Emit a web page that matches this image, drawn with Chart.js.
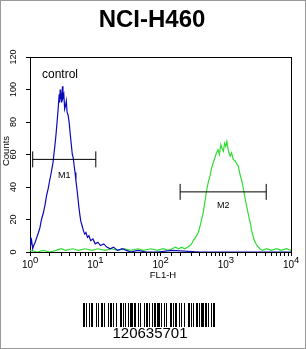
<!DOCTYPE html>
<html>
<head>
<meta charset="utf-8">
<script src="https://cdn.jsdelivr.net/npm/chart.js@4/dist/chart.umd.min.js"></script>
<style>
  html, body { margin: 0; padding: 0; background: #fff; }
  #wrap { width: 306px; height: 349px; position: relative; }
</style>
</head>
<body>
<div id="wrap"><canvas id="myChart" width="306" height="349"></canvas></div>
<script>
// control histogram (blue)
const ctrlFL1 = [1, 1.03, 1.06, 1.1, 1.14, 1.2, 1.27, 1.35, 1.42, 1.5, 1.6, 1.7, 1.8, 1.9, 2.0, 2.1, 2.25, 2.4, 2.5, 2.6, 2.7, 2.8, 2.85, 2.9, 2.95, 3.0, 3.05, 3.15, 3.2, 3.3, 3.4, 3.5, 3.6, 3.7, 3.85, 4.0, 4.15, 4.3, 4.45, 4.6, 4.75, 4.9, 5.05, 5.2, 5.4, 5.6, 5.8, 6.0, 6.3, 6.6, 6.9, 7.2, 7.6, 8.0, 8.5, 9.2, 10, 11, 12, 13.5, 15, 17, 19, 22, 26, 30, 35, 45, 60, 90, 150, 400, 1000, 3000, 10000];
const ctrlCounts = [9, 5, 7, 2, 4, 6, 9, 12, 15, 20, 24, 29, 35, 39, 44, 48, 55, 65, 72, 80, 88, 97, 92, 100, 94, 98, 92, 102, 95, 97, 88, 90, 93, 86, 84, 79, 72, 66, 60, 58, 53, 49, 44, 40, 34, 28, 23, 19, 16, 13, 11, 12, 9, 10, 7, 8, 5, 6, 4, 5, 3, 2, 3, 1, 2, 1, 0, 1, 0, 0, 1, 0, 0, 0, 0];

// sample histogram (green)
const sampleFL1 = [1, 1.3, 1.6, 2, 2.5, 3, 3.5, 4.5, 5.5, 7, 9, 11, 14, 18, 22, 28, 35, 45, 55, 70, 90, 110, 130, 150, 170, 190, 210, 235, 260, 283, 300, 316, 345, 380, 410, 450, 480, 510, 540, 575, 610, 645, 680, 720, 760, 800, 840, 870, 920, 960, 1000, 1040, 1100, 1170, 1230, 1300, 1400, 1480, 1550, 1650, 1780, 1880, 2000, 2120, 2250, 2400, 2530, 2750, 3000, 3330, 3700, 4200, 5000, 6000, 7000, 8500, 10000];
const sampleCounts = [1, 0, 1, 0, 1, 2, 1, 2, 1, 2, 1, 2, 1, 2, 1, 2, 1, 2, 1, 2, 1, 2, 1, 2, 3, 2, 3, 2, 3, 4, 5, 7, 9, 12, 17, 24, 31, 38, 43, 47, 52, 55, 58, 61, 63, 60, 66, 64, 62, 67, 65, 68, 62, 59, 61, 57, 56, 54, 53, 48, 43, 38, 32, 27, 22, 17, 12, 7, 4, 2, 1, 2, 1, 2, 1, 2, 1];

// markers
const m1Range = [1.1, 10.2];
const m1Level = 57;
const m2Range = [200, 4170];
const m2Level = 37;

const yTicks = [0, 20, 40, 60, 80, 100, 120];
const xDecades = [1, 10, 100, 1000, 10000];

const toPts = (xs, ys) => xs.map((v, i) => ({ x: v, y: ys[i] }));

const deco = {
  id: 'deco',
  beforeDatasetsDraw(chart) {
    const ctx = chart.ctx;
    const a = chart.chartArea;
    ctx.save();
    ctx.strokeStyle = '#000';
    ctx.lineWidth = 1;
    ctx.strokeRect(Math.round(a.left) + 0.5, Math.round(a.top) + 0.5, Math.round(a.right - a.left), Math.round(a.bottom - a.top));
    ctx.restore();
  },
  afterDraw(chart) {
    const ctx = chart.ctx;
    const sx = chart.scales.x, sy = chart.scales.y;
    ctx.save();
    ctx.fillStyle = '#000';

    // title
    ctx.font = 'bold 24px "Liberation Sans", Arial, sans-serif';
    ctx.textAlign = 'center';
    ctx.textBaseline = 'alphabetic';
    ctx.fillText('NCI-H460', 152, 27);

    // y tick labels, rotated
    ctx.font = '9px "Liberation Sans", Arial, sans-serif';
    yTicks.forEach(v => {
      ctx.save();
      ctx.translate(14, sy.getPixelForValue(v));
      ctx.rotate(-Math.PI / 2);
      ctx.textAlign = 'center';
      ctx.textBaseline = 'middle';
      ctx.fillText(String(v), 0, 0);
      ctx.restore();
    });
    ctx.save();
    ctx.translate(6, 151);
    ctx.rotate(-Math.PI / 2);
    ctx.textAlign = 'center';
    ctx.textBaseline = 'middle';
    ctx.font = '9.5px "Liberation Sans", Arial, sans-serif';
    ctx.fillText('Counts', 0, 0);
    ctx.restore();

    // x tick labels 10^n
    xDecades.forEach((v, i) => {
      const px = sx.getPixelForValue(v);
      ctx.textAlign = 'right';
      ctx.font = '10px "Liberation Sans", Arial, sans-serif';
      ctx.fillText('10', px + 3, 268);
      ctx.textAlign = 'left';
      ctx.font = '9.5px "Liberation Sans", Arial, sans-serif';
      ctx.fillText(String(i), px + 3, 263);
    });
    ctx.font = '9.5px "Liberation Sans", Arial, sans-serif';
    ctx.textAlign = 'center';
    ctx.fillText('FL1-H', 163, 278);

    // annotations
    ctx.font = '12px "Liberation Sans", Arial, sans-serif';
    ctx.textAlign = 'left';
    ctx.fillText('control', 42, 78);
    ctx.font = '9px "Liberation Sans", Arial, sans-serif';
    ctx.textAlign = 'center';
    ctx.textBaseline = 'top';
    ctx.fillText('M1', (sx.getPixelForValue(m1Range[0]) + sx.getPixelForValue(m1Range[1])) / 2, sy.getPixelForValue(m1Level) + 12);
    ctx.fillText('M2', (sx.getPixelForValue(m2Range[0]) + sx.getPixelForValue(m2Range[1])) / 2, sy.getPixelForValue(m2Level) + 9);

    // barcode
    const bars = [2,1,1,2,1,1,2,3,1,1,1,2,2,1,1,3,1,1,2,1,1,2,1,3,2,1,1,1,1,2,1,1,3,1,2,2,1,1,1,3,1,1,2,1,1,2,1,1,2,1,3,1,1,2,1,1,1,3,2,1,1,1,2,2,1,1,1,2,1,3,2,1,1,1,1,2,2,1,1,1,3,1,2,1,1,2,1,1,2];
    const total = bars.reduce((s, w) => s + w, 0);
    let bx = Math.round(149 - total / 2);
    bars.forEach((w, i) => {
      if (i % 2 === 0) ctx.fillRect(bx, 303, w, 24);
      bx += w;
    });
    ctx.font = '15px "Liberation Sans", Arial, sans-serif';
    ctx.textBaseline = 'alphabetic';
    ctx.textAlign = 'center';
    ctx.fillText('120635701', 150, 338);

    // outer frame
    ctx.strokeStyle = '#999';
    ctx.lineWidth = 1;
    ctx.strokeRect(0.5, 0.5, 305, 348);
    ctx.restore();
  }
};

const ctx = document.getElementById('myChart').getContext('2d');
const myChart = new Chart(ctx, {
  type: 'line',
  data: {
    datasets: [
      {
        label: 'M1',
        data: toPts(m1Range, [m1Level, m1Level]),
        borderColor: '#000',
        borderWidth: 1,
        pointStyle: 'line',
        pointRotation: 90,
        pointRadius: 8,
        pointBorderColor: '#000',
        pointBorderWidth: 1,
        order: 0
      },
      {
        label: 'M2',
        data: toPts(m2Range, [m2Level, m2Level]),
        borderColor: '#000',
        borderWidth: 1,
        pointStyle: 'line',
        pointRotation: 90,
        pointRadius: 8,
        pointBorderColor: '#000',
        pointBorderWidth: 1,
        order: 0
      },
      {
        label: 'control',
        data: toPts(ctrlFL1, ctrlCounts),
        borderColor: 'rgb(10, 10, 185)',
        borderWidth: 1.2,
        pointRadius: 0,
        tension: 0,
        order: 1
      },
      {
        label: 'NCI-H460',
        data: toPts(sampleFL1, sampleCounts),
        borderColor: 'rgb(50, 220, 50)',
        borderWidth: 1.2,
        pointRadius: 0,
        tension: 0,
        order: 2
      }
    ]
  },
  options: {
    responsive: false,
    animation: false,
    layout: { padding: { left: 0, right: 15, top: 57, bottom: 77 } },
    plugins: { legend: { display: false }, tooltip: { enabled: false } },
    scales: {
      x: {
        type: 'logarithmic',
        min: 1,
        max: 10000,
        border: { display: false },
        grid: { drawOnChartArea: false, drawTicks: true, tickLength: 4, color: '#000' },
        ticks: { display: false, autoSkip: false },
        afterFit: s => { s.height = 20; }
      },
      y: {
        min: 0,
        max: 120,
        border: { display: false },
        grid: { drawOnChartArea: false, drawTicks: true, tickLength: 4, color: '#000' },
        ticks: { display: false, stepSize: 20 },
        afterFit: s => { s.width = 30; }
      }
    }
  },
  plugins: [deco]
});
</script>
</body>
</html>
